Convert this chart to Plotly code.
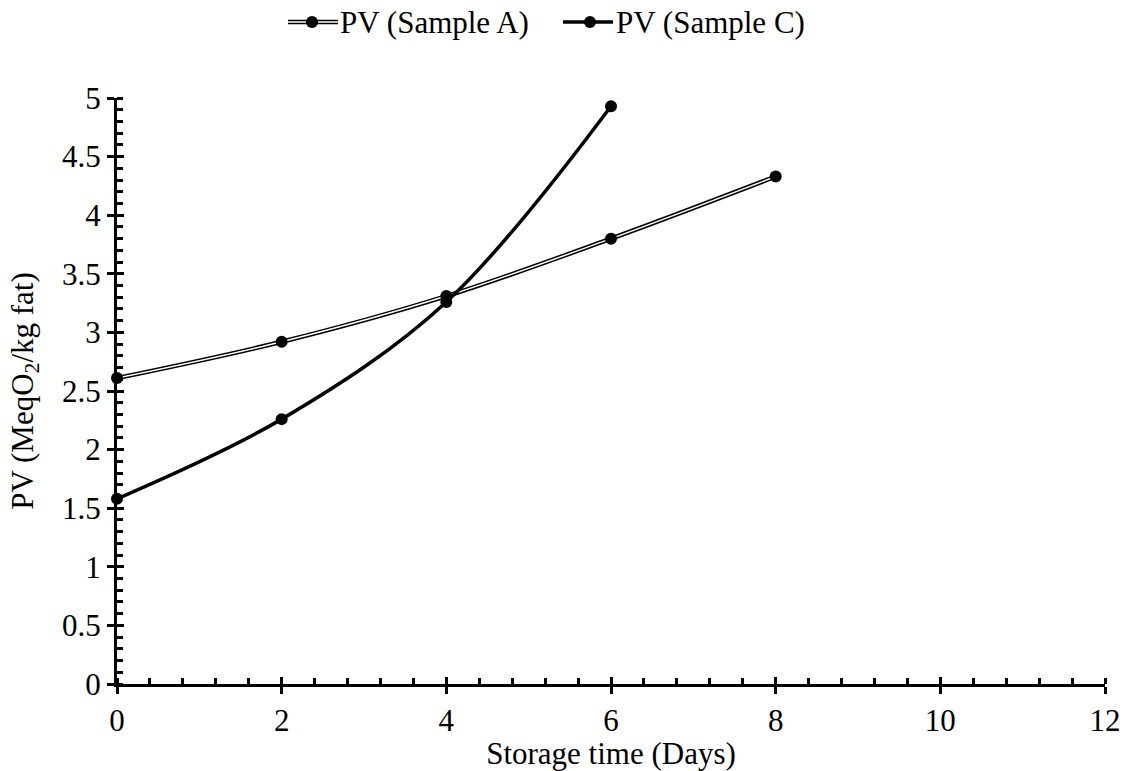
import plotly.graph_objects as go

days = [0, 2, 4, 6, 8]
pv_a = [2.61, 2.92, 3.31, 3.80, 4.33]
days_c = [0, 2, 4, 6]
pv_c = [1.58, 2.26, 3.26, 4.93]

x_ticks = [0, 2, 4, 6, 8, 10, 12]
y_ticks = [0, 0.5, 1, 1.5, 2, 2.5, 3, 3.5, 4, 4.5, 5]
y_tick_text = ["0", "0.5", "1", "1.5", "2", "2.5", "3", "3.5", "4", "4.5", "5"]

FONT = "Liberation Serif"
FS = 31
W, H = 1124, 771
L, R, T, B = 117, 19, 98, 87
PW, PH = W - L - R, H - T - B
MS = 12

fig = go.Figure()
# Sample A: double line (black wide + white core)
fig.add_trace(go.Scatter(x=days, y=pv_a, mode="lines", line=dict(color="black", width=4.5, shape="spline"),
                         showlegend=False, hoverinfo="skip", cliponaxis=False))
fig.add_trace(go.Scatter(x=days, y=pv_a, mode="lines", line=dict(color="white", width=1.5, shape="spline"),
                         showlegend=False, hoverinfo="skip", cliponaxis=False))
fig.add_trace(go.Scatter(x=days, y=pv_a, mode="markers", marker=dict(color="black", size=MS),
                         name="PV (Sample A)", showlegend=False, cliponaxis=False))
# Sample C
fig.add_trace(go.Scatter(x=days_c, y=pv_c, mode="lines+markers", line=dict(color="black", width=3.5, shape="spline"),
                         marker=dict(color="black", size=MS), name="PV (Sample C)", showlegend=False, cliponaxis=False))
# dummy trace for overlay axes (inside half of crossing major ticks)
fig.add_trace(go.Scatter(x=[None], y=[None], xaxis="x2", yaxis="y2", showlegend=False, hoverinfo="skip"))

axis_common = dict(showgrid=False, zeroline=False, linecolor="black", linewidth=3,
                   tickcolor="black", tickwidth=3, ticklen=7, ticks="outside",
                   tickfont=dict(family=FONT, size=FS, color="black"))
fig.update_layout(
    width=W, height=H,
    margin=dict(l=L, r=R, t=T, b=B, autoexpand=False),
    paper_bgcolor="white", plot_bgcolor="white",
    showlegend=False,
    font=dict(family=FONT, size=FS, color="black"),
    xaxis=dict(range=[0, 12], tickvals=x_ticks, ticktext=[str(v) for v in x_ticks], showline=True,
               minor=dict(ticks="inside", dtick=0.4, tick0=0, ticklen=6, tickwidth=2.5, tickcolor="black"),
               title=dict(text="Storage time (Days)", font=dict(family=FONT, size=FS), standoff=2),
               **axis_common),
    yaxis=dict(range=[0, 5], tickvals=y_ticks, ticktext=y_tick_text, showline=True,
               minor=dict(ticks="inside", dtick=0.1, tick0=0, ticklen=6, tickwidth=2.5, tickcolor="black"),
               title=dict(text="PV (MeqO<sub>2</sub>/kg fat)", font=dict(family=FONT, size=FS), standoff=20),
               **axis_common),
    xaxis2=dict(range=[0, 12], overlaying="x", anchor="y2", showgrid=False, zeroline=False, showline=False,
                tickvals=x_ticks, ticks="inside", ticklen=7, tickwidth=3, tickcolor="black",
                showticklabels=False, side="bottom"),
    yaxis2=dict(range=[0, 5], overlaying="y", anchor="x2", showgrid=False, zeroline=False, showline=False,
                tickvals=y_ticks, ticks="inside", ticklen=7, tickwidth=3, tickcolor="black",
                showticklabels=False, side="left"),
)

# custom legend
def px_to_paper(px, py):
    return (px - L) / PW, (H - B - py) / PH

shapes = []
annotations = []
leg_y = 22
for (x0, x1, mx, tx, name, double) in [(288, 338, 312, 338, "PV (Sample A)", True),
                                        (563, 613, 590, 614, "PV (Sample C)", False)]:
    a0 = px_to_paper(x0, leg_y)
    a1 = px_to_paper(x1, leg_y)
    if double:
        shapes.append(dict(type="line", xref="paper", yref="paper", x0=a0[0], y0=a0[1], x1=a1[0], y1=a1[1],
                           line=dict(color="black", width=4.5)))
        shapes.append(dict(type="line", xref="paper", yref="paper", x0=a0[0], y0=a0[1], x1=a1[0], y1=a1[1],
                           line=dict(color="white", width=1.5)))
    else:
        shapes.append(dict(type="line", xref="paper", yref="paper", x0=a0[0], y0=a0[1], x1=a1[0], y1=a1[1],
                           line=dict(color="black", width=3.5)))
    r = MS / 2
    c0 = px_to_paper(mx - r, leg_y + r)
    c1 = px_to_paper(mx + r, leg_y - r)
    shapes.append(dict(type="circle", xref="paper", yref="paper", x0=c0[0], y0=c0[1], x1=c1[0], y1=c1[1],
                       fillcolor="black", line=dict(color="black", width=0)))
    t = px_to_paper(tx, leg_y)
    annotations.append(dict(xref="paper", yref="paper", x=t[0], y=t[1], text=name, showarrow=False,
                            xanchor="left", yanchor="middle", font=dict(family=FONT, size=FS, color="black")))

fig.update_layout(shapes=shapes, annotations=annotations)
fig.write_html("out.html")
